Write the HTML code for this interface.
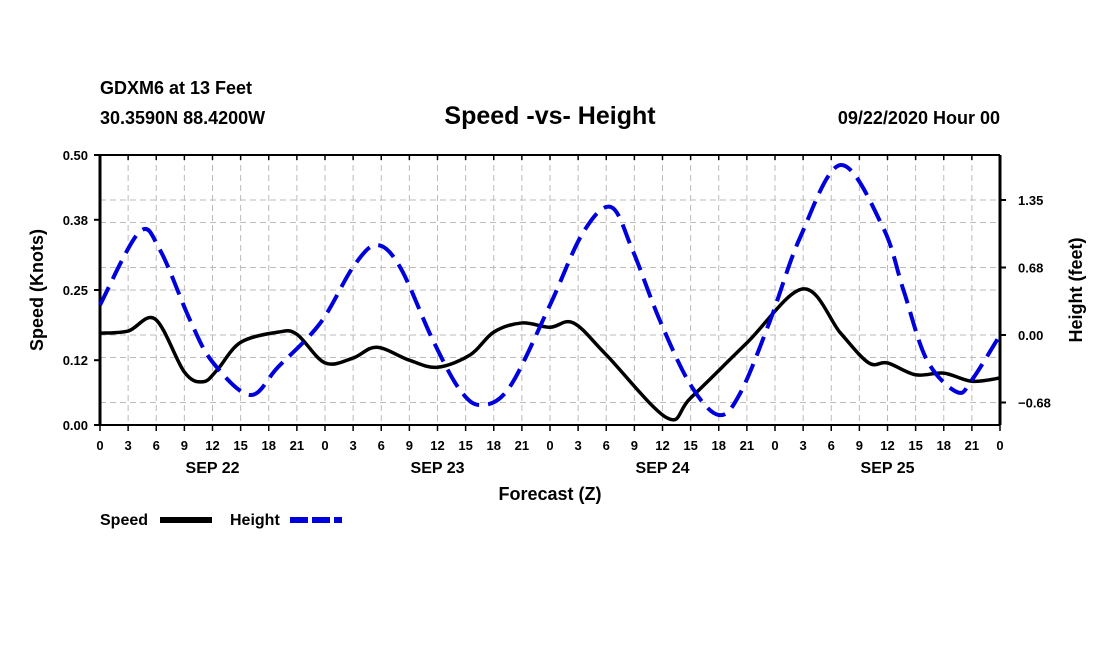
<!DOCTYPE html>
<html><head><meta charset="utf-8"><style>
body{margin:0;background:#fff;}
svg{display:block;font-family:"Liberation Sans",sans-serif;}
</style></head><body>
<svg id="c" width="1100" height="650">
<g id="grid"></g>
<g id="axes"></g>
<g id="series"></g>
<text x="100" y="94" font-size="18" font-weight="bold">GDXM6 at 13 Feet</text>
<text x="100" y="124" font-size="18" font-weight="bold">30.3590N 88.4200W</text>
<text x="550" y="124" font-size="25" font-weight="bold" text-anchor="middle">Speed -vs- Height</text>
<text x="1000" y="124" font-size="18" font-weight="bold" text-anchor="end">09/22/2020 Hour 00</text>
<text x="550" y="500" font-size="18" font-weight="bold" text-anchor="middle">Forecast (Z)</text>
<text transform="translate(43,290) rotate(-90)" font-size="18" font-weight="bold" text-anchor="middle">Speed (Knots)</text>
<text transform="translate(1082,290) rotate(-90)" font-size="18" font-weight="bold" text-anchor="middle">Height (feet)</text>
<g>
<text x="100" y="525" font-size="16" font-weight="bold">Speed</text>
<line x1="160" y1="520" x2="212" y2="520" stroke="#000" stroke-width="6"/>
<text x="230" y="525" font-size="16" font-weight="bold">Height</text>
<line x1="290" y1="520" x2="342" y2="520" stroke="#0000dd" stroke-width="6" stroke-dasharray="18,4"/>
</g>
</svg>
<script>
const speedHours=[0,3,5.9,9,11,12.5,15,19,21,24,27,29.5,33,36,39.5,42,45,48,50.5,54,60.5,63,69,75,79,82,84,87,90,93,96];
const speedValues=[0.170,0.174,0.196,0.098,0.080,0.102,0.153,0.172,0.168,0.115,0.124,0.144,0.120,0.107,0.130,0.172,0.189,0.181,0.189,0.130,0.013,0.050,0.152,0.252,0.170,0.115,0.115,0.093,0.096,0.081,0.087];
const heightHours=[0,4.2,6.4,9.6,12,16,19,23.5,27,29.5,32,35.5,38.4,40.7,43.7,48,51.5,54.5,56.8,59.7,63,66,68.3,71.5,74.7,79,83.5,85.7,88.2,91.4,93,96];
const heightValues=[0.30,1.03,0.85,0.15,-0.27,-0.60,-0.32,0.12,0.68,0.90,0.68,-0.05,-0.55,-0.70,-0.52,0.30,1.02,1.28,0.85,0.15,-0.50,-0.80,-0.58,0.15,0.98,1.70,1.08,0.45,-0.25,-0.57,-0.45,0.0];
const leftTicks=[0,0.12,0.25,0.38,0.50];
const leftTickLabels=["0.00","0.12","0.25","0.38","0.50"];
const rightTicks=[-0.675,0,0.675,1.35];
const rightTickLabels=["\u22120.68","0.00","0.68","1.35"];
const hourLabels=["0","3","6","9","12","15","18","21"];
const dayLabels=["SEP 22","SEP 23","SEP 24","SEP 25"];
const X0=100,X1=1000,Y0=425,Y1=155;
const xs=h=>X0+(X1-X0)*h/96;
const yL=v=>Y0-(Y0-Y1)*v/0.5;
const yR=v=>Y0-(Y0-Y1)*(v+0.9)/2.7;
const NS="http://www.w3.org/2000/svg";
function mk(p,tag,attrs){const e=document.createElementNS(NS,tag);for(const k in attrs)e.setAttribute(k,attrs[k]);p.appendChild(e);return e;}
const grid=document.getElementById('grid'),axes=document.getElementById('axes'),ser=document.getElementById('series');
for(let i=1;i<32;i++){const l=mk(grid,'line',{x1:xs(i*3),x2:xs(i*3),y1:Y1,y2:Y0,stroke:'#bbb','stroke-dasharray':'6,4'});

}
const hy=[yL(0.25),yL(0.375),yL(0.125),yR(1.35),yR(0.675),yR(0),yR(-0.675)];
hy.forEach(y=>{const l=mk(grid,'line',{x1:X0,x2:X1,y1:y,y2:y,stroke:'#bbb','stroke-dasharray':'6,4'});

});
mk(axes,'line',{x1:X0,x2:X0,y1:Y1,y2:Y0,stroke:'#000','stroke-width':3});
mk(axes,'line',{x1:X1,x2:X1,y1:Y1,y2:Y0,stroke:'#000','stroke-width':3});
mk(axes,'line',{x1:X0,x2:X1,y1:Y1,y2:Y1,stroke:'#000','stroke-width':2});
mk(axes,'line',{x1:X0,x2:X1,y1:Y0,y2:Y0,stroke:'#000','stroke-width':2});
leftTicks.forEach((v,i)=>{mk(axes,'line',{x1:X0-6,x2:X0,y1:yL(v),y2:yL(v),stroke:'#000','stroke-width':2});
const t=mk(axes,'text',{x:X0-12,y:yL(v)+5,'font-size':13,'font-weight':'bold','text-anchor':'end'});t.textContent=leftTickLabels[i];

});
rightTicks.forEach((v,i)=>{mk(axes,'line',{x1:X1,x2:X1+6,y1:yR(v),y2:yR(v),stroke:'#000','stroke-width':2});
const t=mk(axes,'text',{x:X1+18,y:yR(v)+5,'font-size':13,'font-weight':'bold'});t.textContent=rightTickLabels[i];

});
for(let i=0;i<=32;i++){const x=xs(i*3);
mk(axes,'line',{x1:x,x2:x,y1:Y0,y2:Y0+6,stroke:'#000','stroke-width':1.5});
mk(axes,'line',{x1:x,x2:x,y1:Y1,y2:Y1+5,stroke:'#000','stroke-width':1.5});
const t=mk(axes,'text',{x:x,y:Y0+25,'font-size':13,'font-weight':'bold','text-anchor':'middle'});t.textContent=hourLabels[i%8];

}
dayLabels.forEach((d,i)=>{const t=mk(axes,'text',{x:xs(i*24+12),y:Y0+48,'font-size':16,'font-weight':'bold','text-anchor':'middle'});t.textContent=d;

});
function smooth(pts){let d=`M${pts[0][0]},${pts[0][1]}`;
for(let i=0;i<pts.length-1;i++){const p0=pts[Math.max(0,i-1)],p1=pts[i],p2=pts[i+1],p3=pts[Math.min(pts.length-1,i+2)];
const c1=[p1[0]+(p2[0]-p0[0])/6,p1[1]+(p2[1]-p0[1])/6],c2=[p2[0]-(p3[0]-p1[0])/6,p2[1]-(p3[1]-p1[1])/6];
d+=` C${c1[0]},${c1[1]} ${c2[0]},${c2[1]} ${p2[0]},${p2[1]}`;}return d;}
const sp=mk(ser,'path',{d:smooth(speedHours.map((h,i)=>[xs(h),yL(speedValues[i])])),fill:'none',stroke:'#000','stroke-width':3.5});


const hp=mk(ser,'path',{d:smooth(heightHours.map((h,i)=>[xs(h),yR(heightValues[i])])),fill:'none',stroke:'#0000dd','stroke-width':4,'stroke-dasharray':'20,9'});


</script>
</body></html>
